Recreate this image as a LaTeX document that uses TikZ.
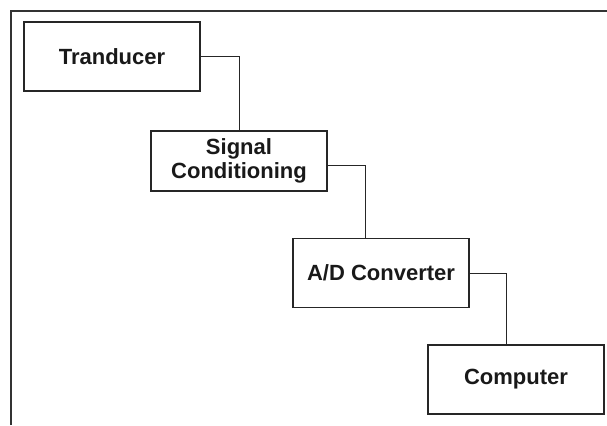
\documentclass[tikz,border=0pt]{standalone}
\usepackage{fontspec}
\setmainfont{Liberation Sans}
\usepackage{tikz}
\usetikzlibrary{positioning}

\begin{document}
\begin{tikzpicture}[
    x=0.75pt, y=-0.75pt,
    box/.style={
        draw=black!85,
        line width=1.1pt,
        rectangle,
        minimum width=132pt,
        minimum height=52pt,
        align=center,
        font=\fontsize{16.5}{18}\selectfont\bfseries,
        text=black!90
    },
    link/.style={draw=black!85, line width=0.7pt}
]
\useasboundingbox (0,0) rectangle (607,425);

% frame
\draw[line width=1.2pt, black!80] (11,425) -- (11,11) -- (607,11);

\node[box] (trans) at (112,56.5) {Tranducer};

\node[box, minimum height=45pt] (sig) at (239,161) {
Signal \\
Conditioning
};

\node[box] (adc) at (381,273) {A/D Converter};

\node[box] (comp) at (516,379.5) {Computer};

\draw[link] (trans.east) -| (sig.north);
\draw[link] ([yshift=-3pt]sig.east) -| ([xshift=-12pt]adc.north);
\draw[link] (adc.east) -| ([xshift=-7.5pt]comp.north);

\end{tikzpicture}
\end{document}
